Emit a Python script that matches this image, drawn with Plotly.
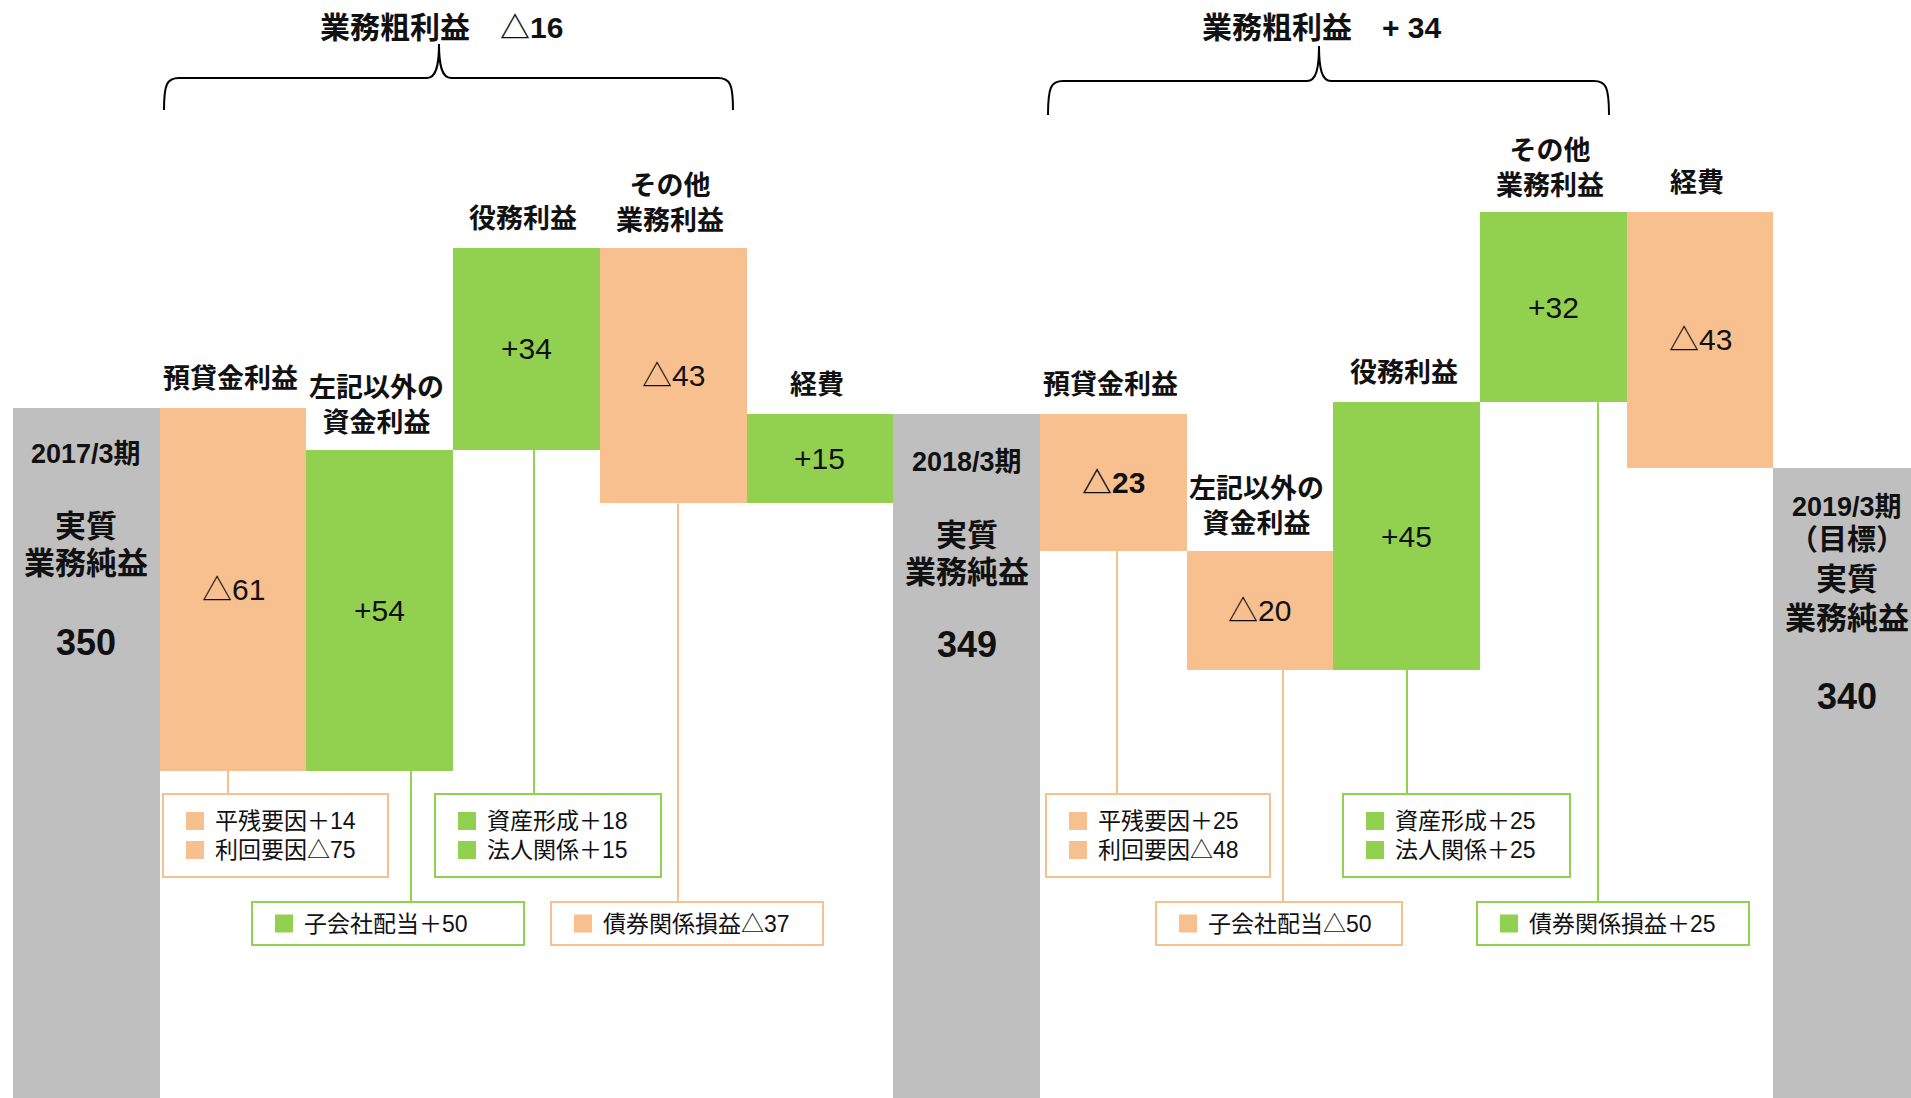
import plotly.graph_objects as go

# ---------------- data ----------------
categories = ["2017/3期", "預貸金利益", "左記以外の<br>資金利益", "役務利益", "その他<br>業務利益", "経費",
              "2018/3期", "預貸金利益", "左記以外の<br>資金利益", "役務利益", "その他<br>業務利益", "経費",
              "2019/3期"]
# None marks a period total (実質業務純益); other entries are changes
changes = [None, -61, 54, 34, -43, 15, None, -23, -20, 45, 32, -43, None]
start_value = 350
total_notes = ["", "", "（目標）"]
total_name = ["実質", "業務純益"]

# 業務粗利益 groups (first and last bar index of each group)
gross_groups = [(1, 4), (7, 10)]

# breakdown callouts: bar index and (item, change) rows
breakdown_bar = [1, 2, 3, 4, 7, 8, 9, 10]
breakdown_items = [
    [("平残要因", 14), ("利回要因", -75)],
    [("子会社配当", 50)],
    [("資産形成", 18), ("法人関係", 15)],
    [("債券関係損益", -37)],
    [("平残要因", 25), ("利回要因", -48)],
    [("子会社配当", -50)],
    [("資産形成", 25), ("法人関係", 25)],
    [("債券関係損益", 25)],
]

# ---------------- styles / layout constants ----------------
W, H = 1911, 1098
C_TOTAL, C_DOWN, C_UP = "#BFBFBF", "#F8C08F", "#92D050"
FONT = "Liberation Sans, Arial, Noto Sans CJK JP, sans-serif"
TXT = "#111111"

BAR_PX = 146.7          # bar width in pixels
LEFT_PX = 13            # left edge of the first bar
X_MIN = -0.5 - LEFT_PX / BAR_PX
X_MAX = X_MIN + W / BAR_PX
PX_PER_UNIT = 5.947
Y_MAX = 418.65
Y_MIN = Y_MAX - H / PX_PER_UNIT

# callout box geometry (pixels): left, right, row (0 upper, 1 lower), connector x
box_left = [163, 252, 435, 551, 1046, 1156, 1343, 1477]
box_right = [388, 524, 661, 823, 1270, 1402, 1570, 1749]
box_row = [0, 1, 0, 1, 0, 1, 0, 1]
connector_px = [228, 411, 534, 678, 1117, 1283, 1407, 1598]
ROW_TOP = [794, 902]
ROW_BOTTOM = [877, 945]
ROW_LINE = 29

# text offsets (pixels below the top) inside the total bars
total_offsets = [
    {"period": 46, "note": None, "name": [118, 155], "value": 234},
    {"period": 48, "note": None, "name": [121, 158], "value": 230},
    {"period": 39, "note": 72, "name": [112, 151], "value": 229},
]


def xp(px):
    return px / W


def yp(py):
    return 1 - py / H


def py_to_val(py):
    return Y_MAX - py / PX_PER_UNIT


def px_to_x(px):
    return X_MIN + px / BAR_PX


def fmt_change(v):
    return f"△{abs(v)}" if v < 0 else f"+{v}"


def fmt_item(v):
    return f"△{abs(v)}" if v < 0 else f"＋{v}"


# ---------------- waterfall geometry ----------------
bases, heights, colors, tops, bottoms = [], [], [], [], []
level = start_value
for c in changes:
    if c is None:
        bases.append(0)
        heights.append(level)
        colors.append(C_TOTAL)
        tops.append(level)
        bottoms.append(0)
    else:
        lo, hi = min(level, level + c), max(level, level + c)
        bases.append(lo)
        heights.append(hi - lo)
        colors.append(C_UP if c > 0 else C_DOWN)
        tops.append(hi)
        bottoms.append(lo)
        level += c

xs = list(range(len(categories)))

fig = go.Figure(go.Bar(
    x=xs, y=heights, base=bases, width=1.0,
    marker=dict(color=colors, line=dict(width=0)),
    hoverinfo="skip",
))

annotations = []
shapes = []

# category labels above the change bars
for i, c in enumerate(changes):
    if c is None:
        continue
    two_lines = "<br>" in categories[i]
    annotations.append(dict(
        x=i, y=tops[i], xref="x", yref="y",
        text=f"<b>{categories[i]}</b>", showarrow=False,
        xanchor="center", yanchor="middle",
        yshift=44 if two_lines else 29, xshift=-3,
        font=dict(family=FONT, size=27, color=TXT),
    ))
    # value label in the middle of the bar
    bold = i == 7
    label = fmt_change(c)
    annotations.append(dict(
        x=i, y=(tops[i] + bottoms[i]) / 2, xref="x", yref="y",
        text=f"<b>{label}</b>" if bold else label, showarrow=False,
        xanchor="center", yanchor="middle",
        font=dict(family=FONT, size=30, color=TXT),
    ))

# text inside the total bars
total_idx = [i for i, c in enumerate(changes) if c is None]
for k, i in enumerate(total_idx):
    off = total_offsets[k]
    annotations.append(dict(
        x=i, y=tops[i], xref="x", yref="y", text=f"<b>{categories[i]}</b>",
        showarrow=False, yanchor="middle", yshift=-off["period"],
        font=dict(family=FONT, size=27, color=TXT)))
    if total_notes[k]:
        annotations.append(dict(
            x=i, y=tops[i], xref="x", yref="y", text=f"<b>{total_notes[k]}</b>",
            showarrow=False, yanchor="middle", yshift=-off["note"],
            font=dict(family=FONT, size=29, color=TXT)))
    for name, o in zip(total_name, off["name"]):
        annotations.append(dict(
            x=i, y=tops[i], xref="x", yref="y", text=f"<b>{name}</b>",
            showarrow=False, yanchor="middle", yshift=-o,
            font=dict(family=FONT, size=31, color=TXT)))
    annotations.append(dict(
        x=i, y=tops[i], xref="x", yref="y", text=f"<b>{tops[i]}</b>",
        showarrow=False, yanchor="middle", yshift=-off["value"],
        font=dict(family=FONT, size=36, color=TXT)))

# 業務粗利益 braces and titles
brace_px = [(164, 733, 439, 78, 110, 44), (1048, 1609, 1319, 81, 115, 46)]
title_px = [(441, 27), (1322, 27)]
for (g0, g1), (xl, xr, xm, yl, ye, yt), (tx, ty) in zip(gross_groups, brace_px, title_px):
    total = sum(changes[g0:g1 + 1])
    sign = f"△{abs(total)}" if total < 0 else f"+ {total}"
    path = (f"M {xp(xl)},{yp(ye)} "
            f"C {xp(xl)},{yp(yl + 6)} {xp(xl + 3)},{yp(yl)} {xp(xl + 15)},{yp(yl)} "
            f"L {xp(xm - 12)},{yp(yl)} "
            f"C {xp(xm - 3)},{yp(yl)} {xp(xm)},{yp(yl - 12)} {xp(xm)},{yp(yt)} "
            f"C {xp(xm)},{yp(yl - 12)} {xp(xm + 3)},{yp(yl)} {xp(xm + 12)},{yp(yl)} "
            f"L {xp(xr - 15)},{yp(yl)} "
            f"C {xp(xr - 3)},{yp(yl)} {xp(xr)},{yp(yl + 6)} {xp(xr)},{yp(ye)}")
    shapes.append(dict(type="path", xref="paper", yref="paper", path=path,
                       line=dict(color="#000000", width=2)))
    annotations.append(dict(
        x=xp(tx), y=yp(ty), xref="paper", yref="paper",
        text=f"<b>業務粗利益　{sign}</b>", showarrow=False,
        xanchor="center", yanchor="middle",
        font=dict(family=FONT, size=30, color=TXT)))

# breakdown callouts
for b, items, bl, br, row, cx in zip(breakdown_bar, breakdown_items, box_left,
                                      box_right, box_row, connector_px):
    col = C_UP if changes[b] > 0 else C_DOWN
    top, bot = ROW_TOP[row], ROW_BOTTOM[row]
    # connector from the bar bottom to the box
    shapes.append(dict(type="line", xref="x", yref="y",
                       x0=px_to_x(cx), x1=px_to_x(cx),
                       y0=bottoms[b], y1=py_to_val(top),
                       line=dict(color=col, width=2)))
    shapes.append(dict(type="rect", xref="paper", yref="paper",
                       x0=xp(bl), x1=xp(br), y0=yp(bot), y1=yp(top),
                       fillcolor="#FFFFFF", line=dict(color=col, width=2)))
    mid = (top + bot) / 2
    n = len(items)
    for r, (name, v) in enumerate(items):
        cy = mid + (r - (n - 1) / 2) * ROW_LINE
        shapes.append(dict(type="rect", xref="paper", yref="paper",
                           x0=xp(bl + 23), x1=xp(bl + 41),
                           y0=yp(cy + 9), y1=yp(cy - 9),
                           fillcolor=col, line=dict(width=0)))
        annotations.append(dict(
            x=xp(bl + 50), y=yp(cy), xref="paper", yref="paper",
            text=f"{name}{fmt_item(v)}", showarrow=False,
            xanchor="left", yanchor="middle",
            font=dict(family=FONT, size=23, color=TXT)))

fig.update_layout(
    width=W, height=H,
    margin=dict(l=0, r=0, t=0, b=0),
    paper_bgcolor="#FFFFFF", plot_bgcolor="#FFFFFF",
    showlegend=False, bargap=0,
    xaxis=dict(range=[X_MIN, X_MAX], visible=False, fixedrange=True),
    yaxis=dict(range=[Y_MIN, Y_MAX], visible=False, fixedrange=True),
    annotations=annotations, shapes=shapes,
)

fig.write_html("out.html", config={"displayModeBar": False})
